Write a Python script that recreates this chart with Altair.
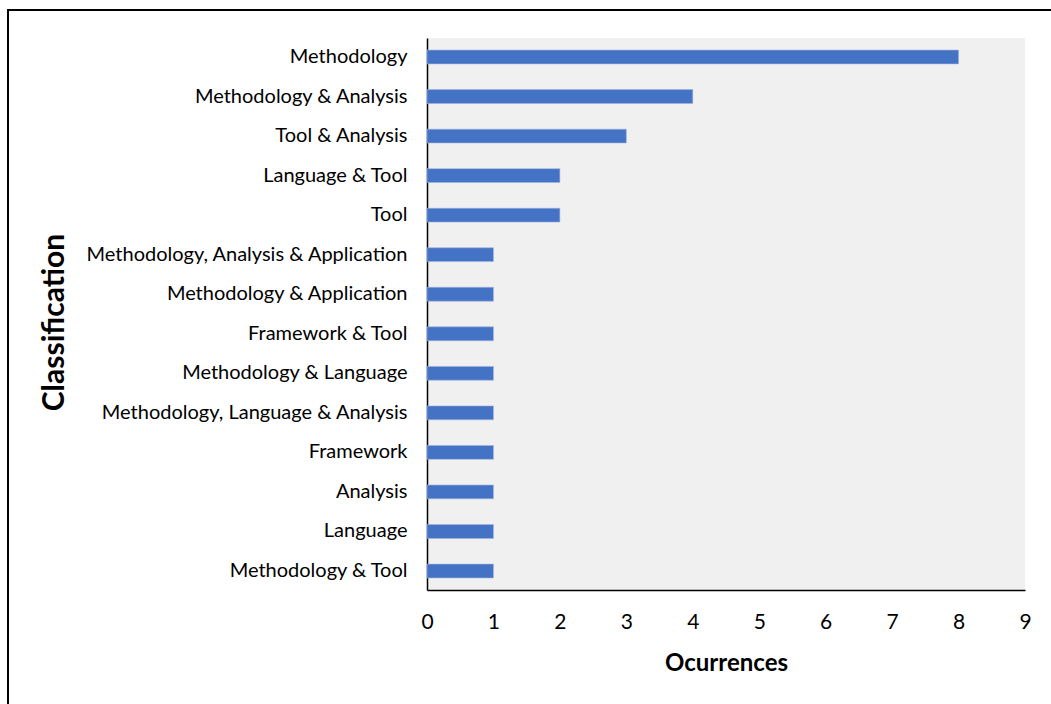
import altair as alt
import pandas as pd

categories = [
    "Methodology",
    "Methodology & Analysis",
    "Tool & Analysis",
    "Language & Tool",
    "Tool",
    "Methodology, Analysis & Application",
    "Methodology & Application",
    "Framework & Tool",
    "Methodology & Language",
    "Methodology, Language & Analysis",
    "Framework",
    "Analysis",
    "Language",
    "Methodology & Tool",
]
occurrences = [8, 4, 3, 2, 2, 1, 1, 1, 1, 1, 1, 1, 1, 1]

df = pd.DataFrame({"Classification": categories, "Ocurrences": occurrences})

FONT = "Lato"

bars = alt.Chart(df).mark_bar(color="#4472C4", stroke="#9FB4DE", strokeWidth=0.6).encode(
    x=alt.X(
        "Ocurrences:Q",
        scale=alt.Scale(domain=[0, 9], nice=False),
        axis=alt.Axis(
            values=list(range(10)),
            format="d",
            grid=False,
            ticks=False,
            domain=True,
            domainColor="#000000",
            domainWidth=1.5,
            labelFont=FONT,
            labelFontSize=21,
            labelColor="#000000",
            labelPadding=21,
            labelFlush=False,
            title="Ocurrences",
            titleFont=FONT,
            titleFontSize=24,
            titleFontWeight="bold",
            titleColor="#000000",
            titleY=73,
            titleBaseline="middle",
        ),
    ),
    y=alt.Y(
        "Classification:N",
        sort=categories,
        scale=alt.Scale(paddingInner=0.65, paddingOuter=0.305),
        axis=alt.Axis(
            grid=False,
            ticks=False,
            domain=True,
            domainColor="#000000",
            domainWidth=1.5,
            labelFont=FONT,
            labelFontSize=20,
            labelColor="#000000",
            labelPadding=20,
            labelLimit=400,
            title="Classification",
            titleFont=FONT,
            titleFontSize=30,
            titleFontWeight="bold",
            titleColor="#000000",
            titleX=-373,
            titleY=284,
            titleAngle=270,
            titleAlign="center",
            titleBaseline="middle",
        ),
    ),
)

frame = alt.Chart(df).mark_rect(
    fill=None, stroke="#000000", strokeWidth=2, clip=False
).encode(
    x=alt.value(-419),
    x2=alt.value(640),
    y=alt.value(-28),
    y2=alt.value(680),
)

chart = (
    alt.layer(frame, bars)
    .properties(
        width=598,
        height=552,
        autosize=alt.AutoSizeParams(type="none"),
        padding={"left": 427, "top": 38, "right": 26, "bottom": 114},
        background="#FFFFFF",
    )
    .configure_view(fill="#F0F0F0", stroke=None)
)

chart.save("out.html", embed_options={"renderer": "svg", "actions": False})
